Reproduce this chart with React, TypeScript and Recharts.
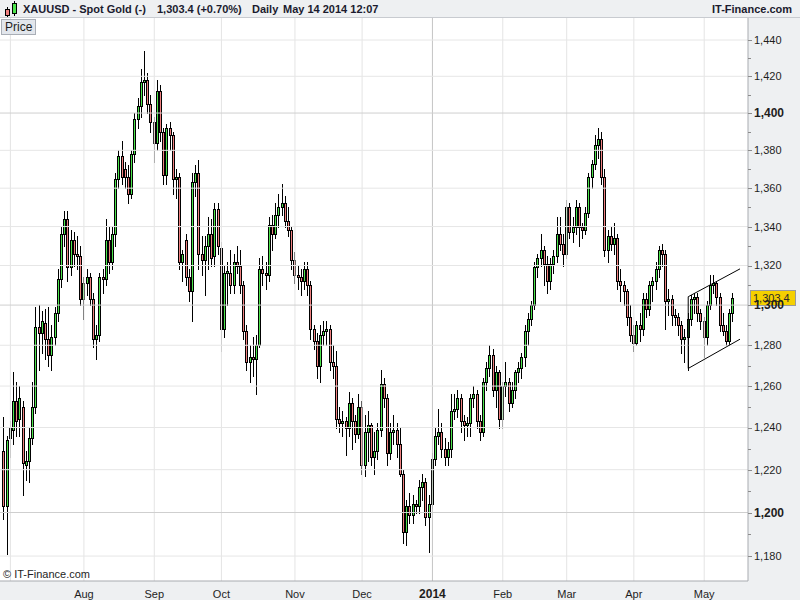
import React from 'react';
import { ComposedChart, Bar, XAxis, YAxis, ReferenceLine, CartesianGrid } from 'recharts';

const FONT = 'Arial, "Liberation Sans", sans-serif';
const UP = '#4CE44C';
const DOWN = '#F08080';

const opens = [
  1229,1203,1235,1239,1253,1244,1250,1222,1224,1235,
  1250,1289,1286,1291,1283,1275,1284,1296,1313,1336,
  1344,1319,1333,1326,1325,1303,1311,1314,1303,1283,
  1285,1314,1313,1333,1322,1336,1365,1377,1370,1366,
  1357,1378,1397,1404,1417,1418,1405,1395,1384,1412,
  1390,1367,1392,1388,1365,1366,1322,1333,1314,1307,
  1363,1368,1326,1323,1330,1336,1325,1349,1329,1288,
  1316,1316,1310,1322,1320,1310,1287,1272,1274,1273,
  1280,1318,1316,1315,1341,1336,1346,1350,1352,1343,
  1338,1323,1315,1314,1312,1318,1310,1288,1282,1270,
  1285,1287,1288,1272,1270,1244,1242,1243,1240,1252,
  1243,1237,1250,1222,1238,1241,1226,1229,1239,1261,
  1254,1228,1238,1239,1232,1218,1191,1203,1199,1204,
  1203,1212,1214,1198,1204,1225,1236,1238,1230,1226,
  1230,1248,1249,1254,1243,1241,1242,1254,1256,1243,
  1238,1262,1269,1275,1258,1267,1244,1260,1262,1252,
  1258,1267,1269,1274,1287,1293,1300,1319,1324,1328,
  1321,1312,1321,1325,1336,1331,1326,1350,1337,1340,
  1350,1340,1338,1347,1366,1373,1383,1386,1366,1328,
  1335,1331,1334,1312,1310,1307,1294,1285,1281,1290,
  1288,1303,1298,1310,1312,1318,1328,1326,1302,1303,
  1295,1294,1290,1283,1284,1293,1303,1304,1296,1292,
  1284,1300,1310,1311,1304,1290,1287,1282,1296,
];
const highs = [
  1245,1236,1243,1267,1262,1260,1253,1229,1240,1262,
  1299,1300,1297,1298,1299,1290,1299,1318,1340,1348,
  1348,1338,1337,1335,1330,1314,1318,1316,1306,1290,
  1316,1318,1344,1340,1340,1368,1380,1385,1374,1372,
  1380,1400,1408,1424,1434,1422,1410,1398,1418,1415,
  1392,1394,1395,1390,1370,1368,1328,1336,1318,1368,
  1372,1375,1335,1335,1345,1344,1352,1352,1332,1320,
  1322,1328,1326,1330,1328,1312,1290,1280,1284,1285,
  1324,1325,1322,1345,1346,1352,1357,1362,1356,1350,
  1340,1327,1320,1318,1322,1322,1312,1290,1286,1290,
  1292,1292,1290,1280,1277,1250,1248,1245,1257,1254,
  1246,1256,1253,1246,1248,1242,1238,1242,1268,1264,
  1256,1242,1246,1242,1240,1220,1206,1209,1208,1206,
  1215,1218,1216,1208,1228,1240,1249,1242,1235,1233,
  1256,1256,1258,1256,1246,1245,1256,1260,1258,1246,
  1264,1272,1280,1278,1270,1268,1262,1272,1264,1262,
  1268,1272,1276,1290,1296,1302,1322,1326,1336,1330,
  1325,1324,1328,1345,1345,1336,1354,1352,1345,1354,
  1352,1342,1350,1368,1375,1388,1392,1390,1370,1338,
  1340,1342,1336,1318,1312,1308,1300,1290,1292,1296,
  1306,1306,1312,1314,1322,1330,1331,1328,1308,1305,
  1298,1296,1292,1288,1296,1305,1306,1306,1298,1294,
  1302,1315,1315,1312,1306,1296,1290,1298,1306,
];
const lows = [
  1197,1181,1226,1232,1236,1236,1208,1215,1214,1232,
  1247,1268,1276,1273,1270,1268,1280,1292,1309,1330,
  1312,1315,1320,1318,1300,1293,1305,1300,1279,1273,
  1282,1306,1310,1316,1318,1330,1360,1362,1360,1352,
  1355,1374,1392,1398,1410,1400,1390,1374,1380,1385,
  1362,1362,1380,1357,1355,1318,1312,1310,1302,1292,
  1356,1318,1315,1305,1318,1320,1320,1326,1277,1284,
  1300,1306,1306,1316,1306,1283,1268,1262,1265,1256,
  1279,1310,1308,1312,1328,1334,1340,1346,1340,1335,
  1318,1311,1308,1305,1308,1305,1283,1278,1264,1262,
  1280,1280,1268,1264,1240,1238,1236,1227,1236,1230,
  1233,1235,1218,1217,1224,1222,1218,1225,1236,1250,
  1222,1225,1232,1226,1217,1186,1185,1195,1195,1200,
  1200,1206,1194,1182,1202,1222,1232,1226,1222,1222,
  1226,1244,1245,1238,1234,1236,1236,1250,1240,1234,
  1236,1258,1265,1255,1250,1240,1240,1255,1248,1250,
  1254,1262,1264,1270,1280,1290,1298,1314,1320,1310,
  1306,1308,1316,1322,1328,1320,1324,1334,1332,1336,
  1330,1334,1336,1345,1360,1370,1376,1362,1325,1322,
  1328,1326,1308,1302,1300,1290,1282,1277,1280,1282,
  1285,1294,1295,1302,1308,1314,1320,1288,1295,1290,
  1290,1285,1276,1272,1268,1290,1296,1292,1288,1274,
  1280,1298,1306,1300,1287,1285,1280,1280,1292,
];
const closes = [
  1203,1234,1240,1253,1243,1254,1223,1224,1235,1250,
  1289,1286,1292,1283,1275,1284,1296,1313,1336,1344,
  1319,1333,1326,1325,1303,1311,1314,1303,1283,1285,
  1314,1313,1333,1322,1336,1365,1377,1366,1366,1357,
  1378,1397,1404,1417,1418,1405,1395,1384,1412,1390,
  1367,1392,1388,1365,1366,1322,1326,1314,1307,1363,
  1368,1326,1323,1330,1336,1324,1349,1330,1288,1316,
  1317,1310,1322,1320,1310,1287,1272,1274,1273,1280,
  1318,1316,1315,1341,1336,1346,1350,1352,1343,1338,
  1323,1315,1314,1312,1318,1310,1288,1282,1270,1285,
  1287,1288,1272,1270,1244,1242,1243,1240,1252,1243,
  1237,1250,1222,1238,1241,1226,1229,1239,1261,1254,
  1228,1238,1239,1232,1218,1191,1203,1199,1204,1203,
  1212,1214,1198,1204,1225,1236,1238,1230,1226,1230,
  1248,1249,1254,1243,1241,1242,1254,1256,1243,1238,
  1262,1269,1275,1258,1267,1244,1260,1262,1252,1258,
  1267,1269,1274,1287,1293,1300,1319,1324,1328,1321,
  1312,1321,1325,1336,1331,1326,1350,1337,1340,1350,
  1340,1338,1347,1366,1373,1383,1386,1366,1328,1335,
  1331,1334,1312,1310,1307,1294,1285,1281,1290,1288,
  1303,1298,1310,1312,1318,1328,1326,1302,1303,1295,
  1294,1290,1283,1284,1293,1303,1304,1296,1292,1284,
  1300,1310,1311,1304,1290,1287,1282,1296,1303.4,
];

// first trading day of each month (index into the series) and its label
const monthTickIdx = [2, 25, 47, 68, 91, 112, 134, 156, 176, 197, 219];
const monthLabels = ['', 'Aug', 'Sep', 'Oct', 'Nov', 'Dec', '2014', 'Feb', 'Mar', 'Apr', 'May'];
const yearTickIdx = 134;

const priceTicks = [1180, 1190, 1200, 1210, 1220, 1230, 1240, 1250, 1260, 1270, 1280, 1290, 1300, 1310, 1320, 1330, 1340, 1350, 1360, 1370, 1380, 1390, 1400, 1410, 1420, 1430, 1440];
const gridPrices = [1180, 1200, 1220, 1240, 1260, 1280, 1300, 1320, 1340, 1360, 1380, 1400, 1420, 1440];
const boldPrices = [1200, 1300, 1400];
const lastPrice = 1303.4;

const channelUpper = [{ x: 214, y: 1304.2 }, { x: 230.2, y: 1318.3 }];
const channelLower = [{ x: 214, y: 1268.6 }, { x: 230.2, y: 1283.0 }];
const channelEdge = [{ x: 214, y: 1304.2 }, { x: 214, y: 1268.6 }];

const Y_DOMAIN: [number, number] = [1168.7, 1452.3];
const X_DOMAIN: [number, number] = [-1.25, 232.7];

const data = opens.map((o, i) => ({
  i,
  o,
  h: highs[i],
  l: lows[i],
  c: closes[i],
  range: [lows[i], highs[i]],
}));

function Candle(props: any) {
  const { x, y, width, height } = props;
  const p = props.payload || props;
  if (x == null || y == null || p == null || p.h == null) return null;
  const top = Math.min(y, y + height);
  const bot = Math.max(y, y + height);
  const lh = Math.log(p.h);
  const ll = Math.log(p.l);
  const py = (v: number) => (lh === ll ? top : top + ((bot - top) * (lh - Math.log(v))) / (lh - ll));
  const cx = Math.floor(x + width / 2) + 0.5;
  const yo = py(p.o);
  const yc = py(p.c);
  const bt = Math.round(Math.min(yo, yc)) + 0.5;
  const bb = Math.round(Math.max(yo, yc)) + 0.5;
  const up = p.c >= p.o;
  return (
    <g>
      <line x1={cx} x2={cx} y1={Math.round(top)} y2={Math.round(bot) + 1} stroke="#000" strokeWidth={1} />
      <rect x={cx - 1} y={bt} width={2} height={Math.max(bb - bt, 1)} fill={up ? UP : DOWN} stroke="#000" strokeWidth={1} />
    </g>
  );
}

function PriceTick(props: any) {
  const { x, y, payload } = props;
  const v = payload.value;
  const major = v % 20 === 0;
  const bold = boldPrices.includes(v);
  const yy = Math.round(y) + 0.5;
  return (
    <g>
      <line x1={x} x2={x + (major ? 4 : 3)} y1={yy} y2={yy} stroke="#8c8c8c" strokeWidth={1} />
      {major && (
        <text x={x + 6} y={y} dy="0.36em" fontSize={bold ? 12 : 11} fontWeight={bold ? 700 : 400} fill="#1e1e1e" fontFamily={FONT}>
          {v.toLocaleString('en-US')}
        </text>
      )}
    </g>
  );
}

function MonthTick(props: any) {
  const { x, y, payload, index } = props;
  const label = monthLabels[monthTickIdx.indexOf(payload.value)] ?? monthLabels[index] ?? '';
  const bold = payload.value === yearTickIdx;
  return (
    <text x={x} y={y + 15} textAnchor="middle" fontSize={bold ? 12 : 11} fontWeight={bold ? 700 : 400} fill="#1e1e1e" fontFamily={FONT}>
      {label}
    </text>
  );
}

function LastPriceLabel(props: any) {
  const vb = props.viewBox || {};
  const bx = vb.x + vb.width + 2;
  const by = Math.round(vb.y) - 8;
  return (
    <g>
      <rect x={bx + 0.5} y={by + 0.5} width={45} height={15} fill="#F5D000" stroke="#9a9a9a" strokeWidth={1} />
      <text x={bx + 3} y={by + 8} dy="0.36em" fontSize={11} fill="#2a2a2a" fontFamily={FONT}>
        {lastPrice.toLocaleString('en-US', { minimumFractionDigits: 1 })}
      </text>
    </g>
  );
}

export default function App() {
  return (
    <div style={{ position: 'absolute', left: 0, top: 0, width: 800, height: 600, background: '#EEF0F2', overflow: 'hidden', fontFamily: FONT }}>
      <ComposedChart width={800} height={600} data={data} margin={{ top: 18, right: 0, bottom: 0, left: 0 }}>
        <CartesianGrid horizontal={false} vertical={false} fill="#FFFFFF" fillOpacity={1} />
        {monthTickIdx.map((m) => (
          <ReferenceLine key={'v' + m} x={m} stroke={m === yearTickIdx ? '#C4C4C4' : '#E4E4E4'} strokeWidth={1} />
        ))}
        {gridPrices.map((g) => (
          <ReferenceLine key={'h' + g} y={g} stroke={boldPrices.includes(g) ? '#CFCFCF' : '#E6E6E6'} strokeWidth={1} />
        ))}
        <XAxis
          type="number"
          dataKey="i"
          domain={X_DOMAIN}
          allowDataOverflow
          ticks={monthTickIdx}
          interval={0}
          tick={<MonthTick />}
          tickLine={false}
          tickSize={0}
          axisLine={{ stroke: '#A8ABB0' }}
          height={19}
        />
        <YAxis
          orientation="right"
          type="number"
          scale="log"
          domain={Y_DOMAIN}
          allowDataOverflow
          ticks={priceTicks}
          interval={0}
          tick={<PriceTick />}
          tickLine={false}
          tickSize={0}
          tickMargin={0}
          axisLine={{ stroke: '#A8ABB0' }}
          width={52}
        />
        <Bar dataKey="range" shape={<Candle />} barSize={3} isAnimationActive={false} />
        <ReferenceLine segment={channelUpper} stroke="#000" strokeWidth={1} ifOverflow="visible" />
        <ReferenceLine segment={channelLower} stroke="#000" strokeWidth={1} ifOverflow="visible" />
        <ReferenceLine segment={channelEdge} stroke="#000" strokeWidth={1} ifOverflow="visible" />
        <ReferenceLine y={lastPrice} stroke="none" ifOverflow="visible" label={<LastPriceLabel />} />
      </ComposedChart>

      <div style={{ position: 'absolute', left: 0, top: 0, width: 800, height: 18, background: '#EEF0F2', borderBottom: '1px solid #C8CBD0', boxSizing: 'border-box', fontSize: 11, lineHeight: '13px', fontWeight: 700, color: '#1B1B2E', whiteSpace: 'nowrap' }}>
        <svg width={18} height={18} style={{ position: 'absolute', left: 2, top: 0 }}>
          <line x1={5.5} x2={5.5} y1={7} y2={17} stroke="#000" />
          <rect x={3.5} y={9.5} width={4} height={6} fill={DOWN} stroke="#000" />
          <line x1={12.5} x2={12.5} y1={1} y2={16} stroke="#000" />
          <rect x={10.5} y={3.5} width={4} height={10} fill={UP} stroke="#000" />
        </svg>
        <span style={{ position: 'absolute', left: 23, top: 3 }}>XAUUSD - Spot Gold (-)</span>
        <span style={{ position: 'absolute', left: 157, top: 3 }}>1,303.4 (+0.70%)</span>
        <span style={{ position: 'absolute', left: 252, top: 3 }}>Daily</span>
        <span style={{ position: 'absolute', left: 283, top: 3 }}>May 14 2014 12:07</span>
        <span style={{ position: 'absolute', left: 712, top: 3 }}>IT-Finance.com</span>
      </div>

      <div style={{ position: 'absolute', left: 1, top: 19, height: 14, lineHeight: '14px', padding: '0 3px', border: '1px solid #A9AEB6', background: '#E2E6EC', fontSize: 12, color: '#1e1e1e' }}>
        Price
      </div>
      <div style={{ position: 'absolute', left: 3, top: 568, fontSize: 11, color: '#1e1e1e' }}>© IT-Finance.com</div>
    </div>
  );
}
